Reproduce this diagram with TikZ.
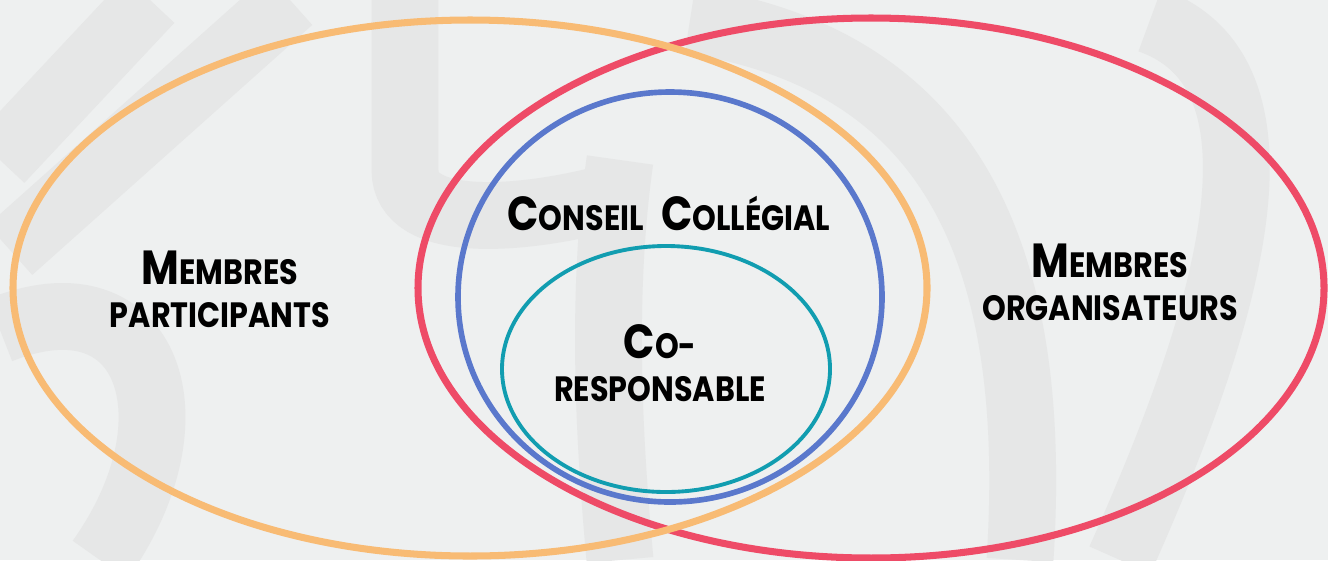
\documentclass[tikz,border=0pt]{standalone}
\usepackage{fontspec}
\setmainfont{Poppins}[FakeStretch=0.86]
\definecolor{bgpaper}{HTML}{EEF0F0}
\definecolor{bgband}{HTML}{E6E7E7}
\definecolor{vennorange}{HTML}{F8BB74}
\definecolor{vennred}{HTML}{EE4B67}
\definecolor{vennblue}{HTML}{5A78CC}
\definecolor{vennteal}{HTML}{119DB0}
\newcommand{\bigletter}[1]{{\fontsize{13.6}{16}\selectfont #1}}

\begin{document}
\begin{tikzpicture}[x=0.01cm, y=-0.01cm,
bandline/.style={bgband, line width=19pt},
setring/.style={line width=#1},
setlabel/.style={font=\bfseries\fontsize{10}{12.2}\selectfont, align=center, inner sep=0pt}]
\fill[bgpaper] (0,0) rectangle (1328,560);
\useasboundingbox (0,0) rectangle (1328,560);

% faint background bands
\begin{scope}
\clip (0,0) rectangle (1328,560);
\draw[bandline] (0,160) -- (150,0);
\draw[bandline] (10,250) -- (290,0);
\draw[bandline] (405,0) -- (405,170) .. controls (405,230) and (520,220) .. (600,200);
\draw[bandline] (620,160) .. controls (600,300) and (610,450) .. (620,560);
\draw[bandline] (690,20) .. controls (950,60) and (1040,250) .. (1020,560);
\draw[bandline] (1150,20) .. controls (1320,80) and (1200,380) .. (1120,560);
\draw[bandline] (0,330) .. controls (150,270) and (200,420) .. (100,560);
\end{scope}

% sets
\draw[vennred, setring=2pt] (871,288) ellipse [x radius=453, y radius=270];
\draw[vennorange, setring=2pt] (470,288) ellipse [x radius=457, y radius=268];
\draw[vennblue, setring=1.6pt] (670,297) ellipse [x radius=212, y radius=205];
\draw[vennteal, setring=1.1pt] (666,369) ellipse [x radius=164, y radius=123];

% labels
\node[setlabel] (participants) at (220,289) {\bigletter{M}EMBRES\\PARTICIPANTS};
\node[setlabel] (organisateurs) at (1110,282) {\bigletter{M}EMBRES\\ORGANISATEURS};
\node[setlabel] (conseil) at (669,213) {\bigletter{C}ONSEIL\hspace{5pt}\bigletter{C}OLLÉGIAL};
\node[setlabel] (coresp) at (660,363) {\bigletter{C}O-\\RESPONSABLE};

\end{tikzpicture}
\end{document}
